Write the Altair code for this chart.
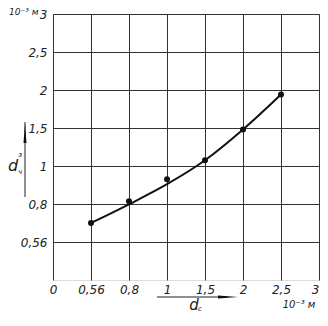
import altair as alt
import pandas as pd

# Axis tick values (non-uniform scale, equally spaced on the drawing)
x_ticks = [0, 0.56, 0.8, 1, 1.5, 2, 2.5, 3]
y_ticks = [0, 0.56, 0.8, 1, 1.5, 2, 2.5, 3]

# Measured points
pt_x = [0.56, 0.8, 1, 1.5, 2, 2.5]
pt_y = [0.68, 0.815, 0.93, 1.075, 1.48, 1.94]

# Fitted curve
curve_x = [0.56, 0.8, 1, 1.5, 2, 2.5]
curve_y = [0.68, 0.798, 0.904, 1.075, 1.48, 1.94]

W = 266
H = 266
n = len(x_ticks) - 1
x_range = [round(i * W / n) for i in range(len(x_ticks))]
y_range = [H - round(i * H / n) for i in range(len(y_ticks))]

FONT = "Liberation Sans Narrow, DejaVu Sans, sans-serif"
INK = "#111111"

xs = alt.Scale(domain=x_ticks, range=x_range, nice=False, zero=False)
ys = alt.Scale(domain=y_ticks, range=y_range, nice=False, zero=False)

pts = pd.DataFrame({"x": pt_x, "y": pt_y})
crv = pd.DataFrame({"x": curve_x, "y": curve_y})

label_expr = "replace(toString(datum.value), '.', ',')"

x_axis = alt.Axis(values=x_ticks, title=None, labelExpr=label_expr, grid=True,
                  ticks=False, domain=False, labelFont=FONT, labelFontStyle="italic",
                  labelFontSize=12, labelColor="#222", labelPadding=4,
                  gridColor="#333", gridOpacity=1, gridWidth=1, labelFlush=False,
                  labelOverlap=False,
                  labelAlign={"condition": {"test": "datum.value == 3", "value": "right"},
                              "value": "center"})
y_axis = alt.Axis(values=y_ticks[1:], title=None, labelExpr=label_expr, grid=True,
                  ticks=False, domain=False, labelFont=FONT, labelFontStyle="italic",
                  labelFontSize=12, labelColor="#222", labelPadding=6,
                  gridColor="#333", gridOpacity=1, gridWidth=1, labelFlush=False,
                  labelOverlap=False)

line = alt.Chart(crv).mark_line(color=INK, strokeWidth=2, interpolate="monotone").encode(
    x=alt.X("x:Q", scale=xs, axis=x_axis),
    y=alt.Y("y:Q", scale=ys, axis=y_axis),
)
dots = alt.Chart(pts).mark_circle(color=INK, opacity=1, size=36).encode(
    x=alt.X("x:Q", scale=xs, axis=x_axis),
    y=alt.Y("y:Q", scale=ys, axis=y_axis),
)

def txt(s, x, y, size, align="center"):
    return alt.Chart(pd.DataFrame({"t": [s]})).mark_text(
        font=FONT, fontStyle="italic", fontSize=size, color="#222",
        align=align, baseline="middle").encode(
        text="t:N", x=alt.value(x), y=alt.value(y))

def rule(x1, x2, y1, y2):
    return alt.Chart(pd.DataFrame({"a": [0]})).mark_rule(color="#222", strokeWidth=1).encode(
        x=alt.value(x1), x2=alt.value(x2), y=alt.value(y1), y2=alt.value(y2))

def head(x, y, path):
    return alt.Chart(pd.DataFrame({"a": [0]})).mark_point(
        shape=path, filled=True, color="#111", opacity=1, size=400, strokeWidth=0).encode(
        x=alt.value(x), y=alt.value(y))

annot = [
    txt("10\u207b\u00b3 м", -44, -2, 9, align="left"),
    txt("10\u207b\u00b3 м", 246, 291, 10),
    # y title with arrow
    rule(-28, -28, 108, 183),
    head(-28, 119, "M-0.15,1L0,-1L0.15,1Z"),
    txt("d", -40, 152, 16),
    txt("з", -33, 141, 7),
    txt("ч", -33, 158, 7),
    # x title with arrow
    rule(104, 174, 283, 283),
    head(175, 283, "M-1,-0.15L1,0L-1,0.15Z"),
    txt("d", 141, 291, 15),
    txt("c", 147, 295, 7),
]

chart = alt.layer(line, dots, *annot).properties(
    width=W, height=H,
    autosize=alt.AutoSizeParams(type="none"),
    padding={"left": 45, "top": 6, "right": 1, "bottom": 33},
).configure_view(stroke="#222", strokeWidth=1.2).configure(background="white")

chart.save("out.html", embed_options={"renderer": "svg", "actions": False})
